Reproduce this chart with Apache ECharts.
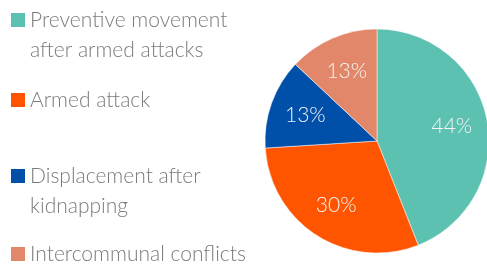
<!DOCTYPE html>
<html>
<head>
<meta charset="utf-8">
<script src="https://cdn.jsdelivr.net/npm/echarts@6/dist/echarts.min.js"></script>
<style>
  html, body { margin: 0; padding: 0; background: #fff; }
  #chart { width: 487px; height: 264px; }
</style>
</head>
<body>
<div id="chart"></div>
<script>
// data
const categories = ['Preventive movement\nafter armed attacks', 'Armed attack', 'Displacement after\nkidnapping', 'Intercommunal conflicts']
const shares = [44, 30, 13, 13]
const colors = ['#5dc1b2', '#ff5400', '#004fa9', '#e2876a']
// vertical centre of each legend icon
const legendRows = [20, 100, 176, 254]

const center = [377, 141]
const R = 112
const LH = 30

const total = shares.reduce((a, b) => a + b, 0)

const mychart = echarts.init(document.getElementById('chart'))

// one legend per item so spacing can follow the picture
const legends = categories.map((name, i) => {
    const twoLines = name.indexOf('\n') >= 0
    return {
        data: [name],
        left: 11,
        top: legendRows[i] - (twoLines ? 1.5 * LH : 0.5 * LH),
        padding: 0,
        orient: 'vertical',
        icon: 'rect',
        itemWidth: 14,
        itemHeight: 14,
        itemGap: 0,
        selectedMode: false,
        itemStyle: { borderWidth: 0 },
        // empty first line keeps the icon level with the first text line
        formatter: n => (twoLines ? '\n' : '') + n,
        textStyle: {
            color: '#7b7b7b',
            fontSize: 21,
            fontFamily: 'Lato',
            fontWeight: 300,
            lineHeight: LH
        }
    }
})

mychart.setOption({
    animation: false,
    color: colors,
    legend: legends,
    series: [{
        type: 'pie',
        center: center,
        radius: R,
        startAngle: 90,
        clockwise: true,
        itemStyle: { borderColor: '#ffffff', borderWidth: 0.5 },
        label: {
            show: true,
            position: 'inside',
            formatter: '{c}%',
            color: '#f4f4f4',
            fontSize: 21,
            fontFamily: 'Lato',
            fontWeight: 300
        },
        labelLayout: function (p) {
            let acc = 0
            for (let k = 0; k < p.dataIndex; k++) acc += shares[k]
            const mid = (acc + shares[p.dataIndex] / 2) / total * Math.PI * 2
            const r = R * 0.68
            return {
                x: center[0] + r * Math.sin(mid),
                y: center[1] - r * Math.cos(mid),
                align: 'center',
                verticalAlign: 'middle'
            }
        },
        labelLine: { show: false },
        data: categories.map((name, i) => ({ name: name, value: shares[i] }))
    }]
})
</script>
</body>
</html>
